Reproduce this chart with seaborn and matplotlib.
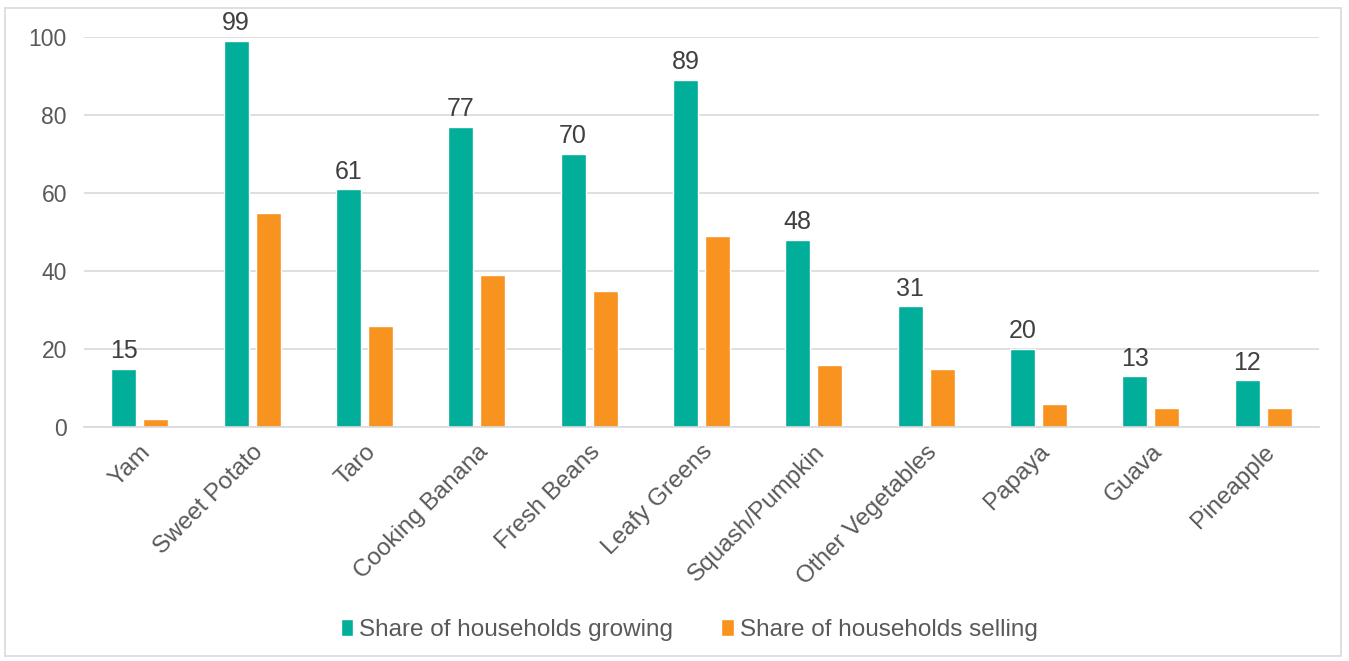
import matplotlib
matplotlib.use("Agg")
import matplotlib.pyplot as plt
import seaborn as sns
import pandas as pd
from matplotlib.patches import Rectangle

crops = ['Yam', 'Sweet Potato', 'Taro', 'Cooking Banana', 'Fresh Beans', 'Leafy Greens',
         'Squash/Pumpkin', 'Other Vegetables', 'Papaya', 'Guava', 'Pineapple']
growing = [15, 99, 61, 77, 70, 89, 48, 31, 20, 13, 12]
selling = [2, 55, 26, 39, 35, 49, 16, 15, 6, 5, 5]
series = ['Share of households growing', 'Share of households selling']
colors = ['#00AE99', '#F7931E']

df = pd.DataFrame({
    'crop': crops * 2,
    'value': growing + selling,
    'series': [series[0]] * len(crops) + [series[1]] * len(crops),
})

sns.set_style('white')
plt.rcParams['font.family'] = ['Liberation Sans', 'DejaVu Sans']
txt = '#595959'

fig = plt.figure(figsize=(13.49, 6.61), dpi=100)
ax = fig.add_axes([0.062, 0.354, 0.916, 0.590])

sns.barplot(data=df, x='crop', y='value', hue='series', palette=colors,
            width=0.572, gap=0.22, ax=ax, saturation=1, legend=True)

ax.set_ylim(0, 100)
ax.set_yticks(range(0, 101, 20))
ax.yaxis.grid(True, color='#D9D9D9', linewidth=1.2)
ax.set_axisbelow(True)
for s in ['top', 'right', 'left']:
    ax.spines[s].set_visible(False)
ax.spines['bottom'].set_color('#D9D9D9')
ax.spines['bottom'].set_linewidth(1.2)
ax.set_xlabel('')
ax.set_ylabel('')
ax.tick_params(axis='y', length=0, labelsize=16.5, colors=txt, pad=12)
ax.tick_params(axis='x', length=0, labelsize=17.5, colors=txt, pad=10)
plt.setp(ax.get_xticklabels(), rotation=45, ha='right', rotation_mode='anchor')

ax.bar_label(ax.containers[0], labels=[str(v) for v in growing], padding=4,
             fontsize=18, color='#404040', clip_on=False)

leg = ax.legend(loc='upper center', bbox_to_anchor=(0.49, -0.435), ncol=2, frameon=False,
                fontsize=17.5, handlelength=0.5, handleheight=0.7, handletextpad=0.25,
                columnspacing=2.0)
for t in leg.get_texts():
    t.set_color(txt)

fig.patches.append(Rectangle((0.004, 0.008), 0.99, 0.98, transform=fig.transFigure,
                             fill=False, edgecolor='#D9D9D9', linewidth=1.2))

fig.savefig('out.png', dpi=100)
